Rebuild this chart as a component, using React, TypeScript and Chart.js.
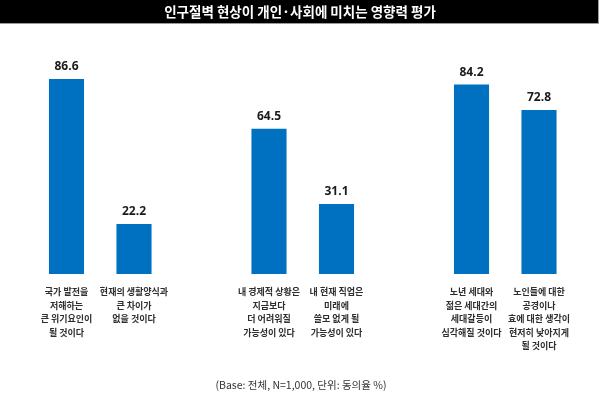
import React, { useEffect, useRef } from "react";
import { Chart, registerables } from "chart.js";

Chart.register(...registerables);

const TITLE = "인구절벽 현상이 개인·사회에 미치는 영향력 평가";
const FOOTER = "(Base: 전체, N=1,000, 단위: 동의율 %)";

const categories: (string[] | string)[] = [
  ["국가 발전을", "저해하는", "큰 위기요인이", "될 것이다"],
  ["현재의 생활양식과", "큰 차이가", "없을 것이다"],
  "",
  ["내 경제적 상황은", "지금보다", "더 어려워질", "가능성이 있다"],
  ["내 현재 직업은", "미래에", "쓸모 없게 될", "가능성이 있다"],
  "",
  ["노년 세대와", "젊은 세대간의", "세대갈등이", "심각해질 것이다"],
  ["노인들에 대한", "공경이나", "효에 대한 생각이", "현저히 낮아지게", "될 것이다"],
];

const agreeRates: (number | null)[] = [86.6, 22.2, null, 64.5, 31.1, null, 84.2, 72.8];

const KR = '"Noto Sans CJK KR", "Noto Sans", sans-serif';

const decorPlugin = {
  id: "decor",
  beforeDraw(chart: any) {
    const { ctx, width, height } = chart;
    ctx.save();
    ctx.fillStyle = "#ffffff";
    ctx.fillRect(0, 0, width, height);
    ctx.fillStyle = "#000000";
    ctx.fillRect(0, 0, width - 1, 23);
    ctx.fillStyle = "#9a9a9a";
    ctx.fillRect(0, 23, width - 1, 1);
    ctx.fillRect(width - 2, 0, 1, 24);
    ctx.fillStyle = "#ffffff";
    ctx.font = `bold 13.5px ${KR}`;
    ctx.textAlign = "center";
    ctx.textBaseline = "middle";
    ctx.fillText(TITLE, width / 2, 12);
    ctx.fillStyle = "#333333";
    ctx.font = `10.5px ${KR}`;
    ctx.fillText(FOOTER, 301, 385);
    ctx.restore();
  },
  afterDatasetsDraw(chart: any) {
    const { ctx } = chart;
    const meta = chart.getDatasetMeta(0);
    const data = chart.data.datasets[0].data;
    ctx.save();
    ctx.fillStyle = "#1a1a1a";
    ctx.font = `bold 12px "Open Sans", "Noto Sans", sans-serif`;
    ctx.textAlign = "center";
    ctx.textBaseline = "middle";
    meta.data.forEach((el: any, i: number) => {
      const v = data[i];
      if (v === null || v === undefined) return;
      ctx.fillText(Number(v).toFixed(1), el.x, el.y - 12);
    });
    ctx.restore();
  },
};

export default function App() {
  const ref = useRef<HTMLCanvasElement>(null);
  useEffect(() => {
    document.body.style.margin = "0";
    const chart = new Chart(ref.current!, {
      type: "bar",
      data: {
        labels: categories as any,
        datasets: [
          {
            data: agreeRates,
            backgroundColor: "#0070C0",
            borderWidth: 0,
            barPercentage: 0.52,
            categoryPercentage: 1,
          },
        ],
      },
      options: {
        animation: false,
        responsive: false,
        devicePixelRatio: 1,
        layout: { padding: { left: 32.75, right: 27.25, top: 48.8, bottom: 0 } },
        plugins: {
          legend: { display: false },
          tooltip: { enabled: false },
          title: { display: false },
        },
        scales: {
          y: { display: false, min: 0, max: 100 },
          x: {
            grid: { display: false, drawTicks: false },
            border: { display: false },
            afterFit: (scale: any) => {
              scale.height = 123;
            },
            ticks: {
              autoSkip: false,
              maxRotation: 0,
              minRotation: 0,
              padding: 11,
              color: "#2e2e2e",
              font: { family: KR, size: 9, weight: "bold", lineHeight: 1.5 },
            },
          },
        },
      },
      plugins: [decorPlugin],
    });
    return () => chart.destroy();
  }, []);
  return (
    <div style={{ width: 600, height: 397 }}>
      <canvas ref={ref} width={600} height={397} />
    </div>
  );
}
